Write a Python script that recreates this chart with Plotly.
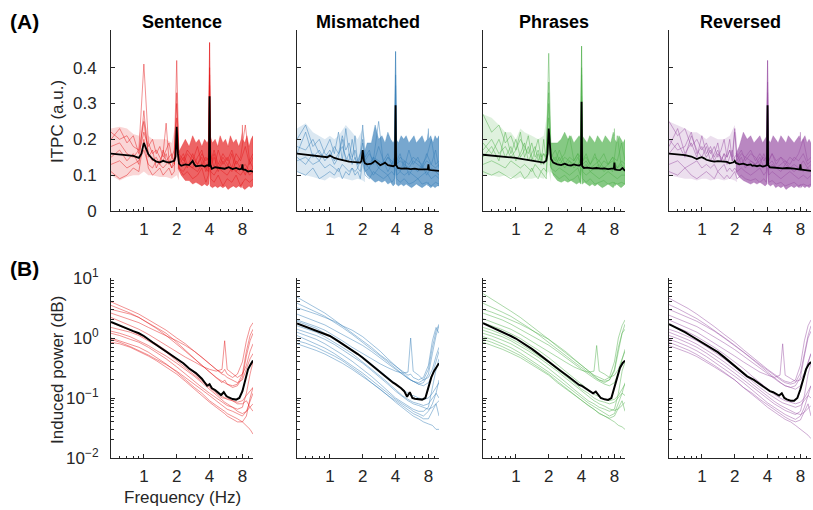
import math
import plotly.graph_objects as go

# ---------------- data ----------------
CONDITIONS = ["Sentence", "Mismatched", "Phrases", "Reversed"]
COLORS = ["#e41a1c", "#377eb8", "#4daf4a", "#984ea3"]

X_TICKS = [1, 2, 4, 8]
X_TICK_TEXT = ["1", "2", "4", "8"]
X_MINOR = [0.6, 0.7, 0.8, 0.9, 3, 5, 6, 7, 9, 10]
ITPC_TICKS = [0, 0.1, 0.2, 0.3, 0.4]
ITPC_TICK_TEXT = ["0", "0.1", "0.2", "0.3", "0.4"]
POW_TICKS = [0.01, 0.1, 1, 10]
POW_TICK_TEXT = ["10<sup>\u22122</sup>", "10<sup>\u22121</sup>", "10<sup>0</sup>", "10<sup>1</sup>"]
POW_MINOR = [0.02, 0.03, 0.04, 0.05, 0.06, 0.07, 0.08, 0.09,
             0.2, 0.3, 0.4, 0.5, 0.6, 0.7, 0.8, 0.9,
             2, 3, 4, 5, 6, 7, 8, 9]

# ---- (A) ITPC: group mean ----
F_MEAN = [0.5, 0.6, 0.7, 0.8, 0.9, 0.95, 1.0, 1.05, 1.1, 1.2, 1.3, 1.4, 1.5, 1.6, 1.7, 1.8, 1.9, 1.95,
          2.0, 2.05, 2.1, 2.2, 2.4, 2.6, 2.8, 2.9, 3.0, 3.2, 3.4, 3.6, 3.8, 3.95, 4.0, 4.05, 4.2, 4.5,
          5.0, 5.5, 6.0, 6.5, 7.0, 7.5, 7.9, 8.0, 8.1, 8.5, 9.0, 9.5, 10.0]
ITPC_MEAN_SENTENCE = [0.160, 0.158, 0.156, 0.154, 0.148, 0.160, 0.190, 0.175, 0.158, 0.145, 0.138, 0.136, 0.140,
                      0.137, 0.135, 0.138, 0.140, 0.152, 0.235, 0.160, 0.132, 0.126, 0.130, 0.128, 0.140, 0.130,
                      0.125, 0.126, 0.127, 0.124, 0.128, 0.126, 0.320, 0.130, 0.118, 0.122, 0.120, 0.118, 0.122,
                      0.117, 0.120, 0.116, 0.118, 0.130, 0.116, 0.115, 0.110, 0.112, 0.110]
ITPC_MEAN_MISMATCHED = [0.160, 0.157, 0.154, 0.151, 0.149, 0.150, 0.155, 0.152, 0.148, 0.145, 0.142, 0.140, 0.138,
                        0.137, 0.137, 0.136, 0.135, 0.140, 0.170, 0.140, 0.133, 0.130, 0.132, 0.140, 0.130, 0.128,
                        0.130, 0.135, 0.128, 0.126, 0.125, 0.128, 0.295, 0.128, 0.120, 0.118, 0.119, 0.117, 0.118,
                        0.116, 0.117, 0.116, 0.117, 0.130, 0.115, 0.114, 0.113, 0.114, 0.112]
ITPC_MEAN_PHRASES = [0.157, 0.155, 0.154, 0.152, 0.150, 0.149, 0.148, 0.147, 0.146, 0.144, 0.142, 0.141, 0.140,
                     0.138, 0.136, 0.135, 0.140, 0.160, 0.230, 0.175, 0.145, 0.135, 0.130, 0.128, 0.132, 0.130,
                     0.128, 0.127, 0.130, 0.128, 0.127, 0.130, 0.305, 0.125, 0.120, 0.121, 0.119, 0.120, 0.118,
                     0.119, 0.117, 0.118, 0.118, 0.135, 0.116, 0.115, 0.114, 0.120, 0.112]
ITPC_MEAN_REVERSED = [0.160, 0.158, 0.156, 0.152, 0.145, 0.148, 0.150, 0.147, 0.143, 0.140, 0.138, 0.139, 0.138,
                      0.136, 0.137, 0.133, 0.135, 0.136, 0.140, 0.134, 0.133, 0.130, 0.132, 0.128, 0.130, 0.126,
                      0.127, 0.125, 0.127, 0.124, 0.126, 0.128, 0.295, 0.128, 0.122, 0.121, 0.120, 0.119, 0.120,
                      0.118, 0.118, 0.117, 0.116, 0.130, 0.116, 0.115, 0.114, 0.113, 0.112]

# ---- (A) ITPC: spread of individual subjects, low frequencies ----
F_LOW = [0.5, 0.6, 0.7, 0.8, 0.9, 1.0, 1.1, 1.2, 1.4, 1.6, 1.8, 2.0, 2.1]
ITPC_LOW_HI_SENTENCE = [0.23, 0.235, 0.23, 0.215, 0.21, 0.26, 0.21, 0.2, 0.2, 0.2, 0.19, 0.26, 0.19]
ITPC_LOW_LO_SENTENCE = [0.1, 0.085, 0.095, 0.1, 0.1, 0.11, 0.1, 0.1, 0.095, 0.095, 0.09, 0.1, 0.085]
ITPC_LOW_HI_MISMATCHED = [0.23, 0.245, 0.22, 0.21, 0.2, 0.21, 0.2, 0.21, 0.24, 0.22, 0.2, 0.23, 0.2]
ITPC_LOW_LO_MISMATCHED = [0.11, 0.1, 0.095, 0.09, 0.085, 0.095, 0.09, 0.095, 0.09, 0.085, 0.09, 0.085, 0.08]
ITPC_LOW_HI_PHRASES = [0.27, 0.26, 0.24, 0.22, 0.22, 0.2, 0.23, 0.22, 0.21, 0.2, 0.21, 0.3, 0.2]
ITPC_LOW_LO_PHRASES = [0.1, 0.1, 0.095, 0.1, 0.095, 0.09, 0.095, 0.09, 0.09, 0.095, 0.09, 0.11, 0.08]
ITPC_LOW_HI_REVERSED = [0.25, 0.24, 0.23, 0.22, 0.22, 0.21, 0.2, 0.21, 0.2, 0.2, 0.21, 0.24, 0.2]
ITPC_LOW_LO_REVERSED = [0.1, 0.095, 0.09, 0.09, 0.085, 0.09, 0.09, 0.085, 0.09, 0.085, 0.09, 0.085, 0.08]

# ---- (A) ITPC: dense envelope of individual subjects, high frequencies ----
F_DENSE = [2.05, 2.2, 2.4, 2.6, 2.8, 3.0, 3.2, 3.4, 3.6, 3.8, 3.95, 4.0, 4.05, 4.25, 4.5, 4.75, 5.0, 5.3, 5.6,
           5.9, 6.2, 6.6, 7.0, 7.4, 7.8, 7.95, 8.0, 8.05, 8.4, 8.8, 9.2, 9.6, 10.0]
ITPC_HI_SENTENCE = [0.16, 0.18, 0.2, 0.18, 0.21, 0.19, 0.2, 0.18, 0.2, 0.19, 0.2, 0.47, 0.21, 0.19, 0.2, 0.18, 0.21,
                    0.19, 0.2, 0.18, 0.21, 0.19, 0.2, 0.18, 0.2, 0.22, 0.24, 0.2, 0.19, 0.21, 0.18, 0.2, 0.21]
ITPC_LO_SENTENCE = [0.12, 0.1, 0.085, 0.085, 0.075, 0.08, 0.075, 0.07, 0.075, 0.07, 0.075, 0.12, 0.07, 0.065, 0.07,
                    0.065, 0.07, 0.065, 0.07, 0.06, 0.065, 0.07, 0.065, 0.07, 0.065, 0.07, 0.08, 0.065, 0.06, 0.065,
                    0.07, 0.065, 0.07]
ITPC_HI_MISMATCHED = [0.16, 0.19, 0.19, 0.24, 0.2, 0.21, 0.19, 0.22, 0.2, 0.19, 0.2, 0.445, 0.2, 0.19, 0.21, 0.2,
                      0.21, 0.19, 0.2, 0.21, 0.19, 0.2, 0.21, 0.19, 0.2, 0.22, 0.23, 0.2, 0.21, 0.19, 0.21, 0.2, 0.21]
ITPC_LO_MISMATCHED = [0.12, 0.1, 0.09, 0.08, 0.085, 0.08, 0.085, 0.075, 0.08, 0.07, 0.075, 0.12, 0.075, 0.07,
                      0.075, 0.07, 0.075, 0.07, 0.065, 0.07, 0.075, 0.07, 0.065, 0.07, 0.075, 0.07, 0.08, 0.07, 0.065,
                      0.07, 0.065, 0.07, 0.07]
ITPC_HI_PHRASES = [0.19, 0.19, 0.19, 0.2, 0.22, 0.2, 0.21, 0.19, 0.2, 0.21, 0.2, 0.46, 0.21, 0.2, 0.19, 0.21, 0.2,
                   0.19, 0.21, 0.2, 0.19, 0.21, 0.2, 0.19, 0.22, 0.21, 0.23, 0.2, 0.19, 0.21, 0.2, 0.19, 0.2]
ITPC_LO_PHRASES = [0.13, 0.1, 0.085, 0.08, 0.085, 0.08, 0.085, 0.08, 0.075, 0.08, 0.075, 0.12, 0.075, 0.08, 0.075,
                   0.07, 0.075, 0.07, 0.075, 0.07, 0.065, 0.07, 0.075, 0.07, 0.065, 0.07, 0.08, 0.07, 0.075, 0.07,
                   0.065, 0.07, 0.075]
ITPC_HI_REVERSED = [0.16, 0.18, 0.22, 0.2, 0.21, 0.19, 0.2, 0.21, 0.19, 0.2, 0.21, 0.42, 0.2, 0.19, 0.21, 0.2, 0.19,
                    0.21, 0.2, 0.19, 0.21, 0.2, 0.19, 0.2, 0.21, 0.2, 0.22, 0.19, 0.2, 0.21, 0.19, 0.2, 0.19]
ITPC_LO_REVERSED = [0.11, 0.095, 0.085, 0.08, 0.075, 0.08, 0.075, 0.08, 0.075, 0.07, 0.075, 0.12, 0.075, 0.07, 0.075,
                    0.065, 0.07, 0.065, 0.07, 0.06, 0.065, 0.07, 0.065, 0.07, 0.065, 0.07, 0.075, 0.065, 0.07, 0.065,
                    0.07, 0.065, 0.07]

# ---- (A) ITPC: individual subjects ----
F_IND = [0.5, 0.6, 0.7, 0.8, 0.9, 1.0, 1.1, 1.2, 1.3, 1.4, 1.5, 1.6, 1.7, 1.8, 1.9, 2.0, 2.1, 2.3, 2.5, 2.8,
         3.1, 3.4, 3.7, 3.9, 4.0, 4.1, 4.4, 4.8, 5.3, 5.8, 6.4, 7.0, 7.7, 8.5, 9.3, 10.0]
ITPC_SUBJ_SENTENCE = [
    [0.22, 0.2, 0.21, 0.18, 0.17, 0.41, 0.19, 0.16, 0.17, 0.15, 0.14, 0.16, 0.13, 0.15, 0.14, 0.26, 0.15, 0.13,
     0.16, 0.14, 0.18, 0.13, 0.15, 0.14, 0.35, 0.16, 0.12, 0.17, 0.13, 0.15, 0.12, 0.16, 0.14, 0.18, 0.13, 0.15],
    [0.15, 0.17, 0.14, 0.16, 0.13, 0.28, 0.15, 0.17, 0.12, 0.14, 0.16, 0.245, 0.14, 0.12, 0.15, 0.42, 0.13, 0.15,
     0.12, 0.16, 0.13, 0.15, 0.11, 0.13, 0.47, 0.12, 0.15, 0.11, 0.14, 0.12, 0.16, 0.11, 0.13, 0.1, 0.14, 0.12],
    [0.11, 0.09, 0.1, 0.12, 0.11, 0.2, 0.12, 0.1, 0.11, 0.12, 0.1, 0.11, 0.12, 0.1, 0.11, 0.33, 0.12, 0.1,
     0.11, 0.09, 0.1, 0.12, 0.08, 0.1, 0.4, 0.09, 0.08, 0.1, 0.07, 0.09, 0.08, 0.1, 0.07, 0.09, 0.08, 0.09],
    [0.18, 0.19, 0.16, 0.15, 0.17, 0.25, 0.16, 0.14, 0.15, 0.13, 0.17, 0.14, 0.15, 0.16, 0.13, 0.22, 0.14, 0.16,
     0.13, 0.12, 0.15, 0.17, 0.12, 0.14, 0.3, 0.13, 0.16, 0.12, 0.15, 0.13, 0.11, 0.14, 0.12, 0.13, 0.11, 0.12],
    [0.13, 0.14, 0.12, 0.13, 0.14, 0.17, 0.13, 0.12, 0.14, 0.13, 0.12, 0.13, 0.14, 0.12, 0.13, 0.2, 0.12, 0.11,
     0.13, 0.12, 0.11, 0.13, 0.12, 0.11, 0.26, 0.11, 0.1, 0.12, 0.11, 0.1, 0.12, 0.11, 0.1, 0.12, 0.1, 0.11],
    [0.2, 0.23, 0.19, 0.21, 0.16, 0.22, 0.18, 0.2, 0.16, 0.18, 0.15, 0.17, 0.19, 0.15, 0.17, 0.3, 0.16, 0.14,
     0.17, 0.15, 0.13, 0.16, 0.14, 0.15, 0.38, 0.14, 0.17, 0.13, 0.16, 0.14, 0.17, 0.13, 0.15, 0.24, 0.14, 0.16],
]
ITPC_SUBJ_MISMATCHED = [
    [0.2, 0.24, 0.18, 0.2, 0.16, 0.15, 0.18, 0.16, 0.21, 0.17, 0.19, 0.15, 0.17, 0.14, 0.16, 0.24, 0.15, 0.17,
     0.13, 0.18, 0.14, 0.16, 0.13, 0.15, 0.445, 0.14, 0.16, 0.12, 0.17, 0.13, 0.15, 0.12, 0.16, 0.13, 0.17, 0.12],
    [0.15, 0.13, 0.16, 0.14, 0.17, 0.2, 0.16, 0.22, 0.14, 0.23, 0.16, 0.13, 0.15, 0.12, 0.14, 0.19, 0.13, 0.12,
     0.15, 0.12, 0.14, 0.11, 0.13, 0.12, 0.35, 0.12, 0.11, 0.14, 0.1, 0.12, 0.11, 0.13, 0.1, 0.12, 0.11, 0.1],
    [0.11, 0.1, 0.12, 0.09, 0.1, 0.11, 0.1, 0.12, 0.09, 0.11, 0.1, 0.12, 0.1, 0.11, 0.09, 0.14, 0.1, 0.09,
     0.11, 0.1, 0.09, 0.1, 0.08, 0.09, 0.25, 0.09, 0.08, 0.09, 0.075, 0.08, 0.09, 0.075, 0.08, 0.07, 0.08, 0.075],
    [0.18, 0.17, 0.2, 0.16, 0.15, 0.17, 0.14, 0.16, 0.18, 0.15, 0.14, 0.2, 0.15, 0.13, 0.16, 0.17, 0.14, 0.13,
     0.15, 0.14, 0.13, 0.15, 0.14, 0.13, 0.3, 0.13, 0.14, 0.13, 0.12, 0.14, 0.13, 0.12, 0.14, 0.13, 0.12, 0.13],
    [0.14, 0.15, 0.13, 0.14, 0.12, 0.13, 0.12, 0.11, 0.13, 0.12, 0.11, 0.12, 0.11, 0.12, 0.11, 0.15, 0.11, 0.12,
     0.1, 0.12, 0.11, 0.1, 0.11, 0.1, 0.22, 0.1, 0.11, 0.1, 0.11, 0.1, 0.09, 0.1, 0.11, 0.09, 0.1, 0.09],
    [0.16, 0.22, 0.15, 0.17, 0.14, 0.16, 0.13, 0.15, 0.2, 0.14, 0.16, 0.14, 0.21, 0.13, 0.15, 0.2, 0.14, 0.16,
     0.14, 0.25, 0.13, 0.15, 0.13, 0.14, 0.38, 0.13, 0.15, 0.14, 0.13, 0.15, 0.14, 0.13, 0.15, 0.2, 0.13, 0.14],
]
ITPC_SUBJ_PHRASES = [
    [0.27, 0.22, 0.24, 0.19, 0.21, 0.17, 0.2, 0.18, 0.16, 0.19, 0.15, 0.17, 0.14, 0.16, 0.15, 0.44, 0.16, 0.14,
     0.17, 0.13, 0.15, 0.14, 0.16, 0.13, 0.46, 0.14, 0.15, 0.13, 0.16, 0.12, 0.14, 0.13, 0.15, 0.12, 0.14, 0.13],
    [0.15, 0.18, 0.14, 0.22, 0.16, 0.2, 0.15, 0.17, 0.21, 0.15, 0.14, 0.16, 0.13, 0.2, 0.14, 0.33, 0.15, 0.13,
     0.15, 0.12, 0.14, 0.12, 0.13, 0.14, 0.38, 0.12, 0.13, 0.11, 0.12, 0.13, 0.11, 0.12, 0.11, 0.21, 0.12, 0.11],
    [0.11, 0.1, 0.11, 0.1, 0.09, 0.1, 0.11, 0.09, 0.1, 0.12, 0.1, 0.09, 0.11, 0.1, 0.09, 0.3, 0.11, 0.1,
     0.09, 0.1, 0.085, 0.09, 0.1, 0.08, 0.27, 0.09, 0.08, 0.09, 0.075, 0.08, 0.085, 0.075, 0.08, 0.075, 0.08, 0.075],
    [0.19, 0.16, 0.2, 0.15, 0.18, 0.14, 0.16, 0.19, 0.14, 0.16, 0.18, 0.14, 0.16, 0.13, 0.15, 0.26, 0.14, 0.15,
     0.13, 0.15, 0.14, 0.13, 0.15, 0.13, 0.32, 0.13, 0.14, 0.12, 0.13, 0.14, 0.12, 0.13, 0.14, 0.12, 0.13, 0.12],
    [0.13, 0.14, 0.13, 0.12, 0.14, 0.13, 0.12, 0.13, 0.12, 0.11, 0.13, 0.12, 0.11, 0.12, 0.11, 0.2, 0.12, 0.11,
     0.12, 0.11, 0.1, 0.11, 0.12, 0.1, 0.22, 0.11, 0.1, 0.11, 0.1, 0.09, 0.1, 0.11, 0.1, 0.09, 0.1, 0.1],
    [0.17, 0.2, 0.16, 0.18, 0.15, 0.17, 0.22, 0.15, 0.18, 0.14, 0.17, 0.2, 0.15, 0.16, 0.14, 0.36, 0.15, 0.17,
     0.14, 0.16, 0.21, 0.14, 0.16, 0.15, 0.4, 0.14, 0.16, 0.13, 0.15, 0.14, 0.16, 0.13, 0.15, 0.14, 0.19, 0.14],
]
ITPC_SUBJ_REVERSED = [
    [0.25, 0.21, 0.23, 0.18, 0.2, 0.17, 0.19, 0.16, 0.18, 0.15, 0.17, 0.2, 0.15, 0.17, 0.14, 0.22, 0.15, 0.17,
     0.14, 0.16, 0.15, 0.13, 0.16, 0.14, 0.42, 0.14, 0.16, 0.13, 0.15, 0.14, 0.13, 0.15, 0.14, 0.16, 0.13, 0.14],
    [0.16, 0.19, 0.15, 0.21, 0.17, 0.15, 0.18, 0.14, 0.16, 0.19, 0.14, 0.16, 0.13, 0.15, 0.17, 0.14, 0.13, 0.15,
     0.12, 0.14, 0.13, 0.15, 0.12, 0.13, 0.33, 0.12, 0.13, 0.12, 0.11, 0.13, 0.12, 0.11, 0.12, 0.11, 0.12, 0.11],
    [0.11, 0.1, 0.12, 0.1, 0.09, 0.1, 0.11, 0.1, 0.09, 0.11, 0.1, 0.09, 0.1, 0.09, 0.1, 0.11, 0.09, 0.1,
     0.09, 0.085, 0.09, 0.08, 0.09, 0.08, 0.24, 0.08, 0.085, 0.075, 0.08, 0.07, 0.075, 0.08, 0.07, 0.075, 0.07, 0.075],
    [0.2, 0.17, 0.18, 0.22, 0.16, 0.18, 0.15, 0.17, 0.14, 0.16, 0.15, 0.14, 0.16, 0.2, 0.14, 0.15, 0.16, 0.13,
     0.15, 0.14, 0.13, 0.14, 0.15, 0.13, 0.28, 0.13, 0.14, 0.12, 0.13, 0.14, 0.12, 0.13, 0.12, 0.14, 0.12, 0.13],
    [0.13, 0.14, 0.12, 0.13, 0.14, 0.12, 0.13, 0.12, 0.13, 0.11, 0.12, 0.13, 0.11, 0.12, 0.11, 0.12, 0.11, 0.12,
     0.11, 0.1, 0.11, 0.12, 0.1, 0.11, 0.2, 0.1, 0.11, 0.1, 0.09, 0.1, 0.11, 0.1, 0.09, 0.1, 0.09, 0.1],
    [0.18, 0.23, 0.16, 0.19, 0.15, 0.21, 0.16, 0.18, 0.15, 0.17, 0.14, 0.16, 0.15, 0.17, 0.15, 0.23, 0.14, 0.16,
     0.15, 0.17, 0.14, 0.16, 0.14, 0.15, 0.36, 0.14, 0.16, 0.14, 0.15, 0.13, 0.15, 0.14, 0.16, 0.2, 0.14, 0.15],
]

# ---- (B) Induced power: group mean ----
F_POW_MEAN = [0.5, 0.6, 0.7, 0.8, 0.9, 1.0, 1.2, 1.4, 1.6, 1.8, 2.0, 2.3, 2.6, 3.0, 3.4, 3.8, 4.0, 4.2, 4.5,
              4.8, 5.1, 5.4, 5.7, 6.0, 6.5, 7.0, 7.5, 8.0, 8.5, 9.0, 9.5, 10.0]
POW_MEAN_SENTENCE = [1.85, 1.6, 1.42, 1.3, 1.2, 1.08, 0.85, 0.7, 0.6, 0.52, 0.46, 0.38, 0.31, 0.26, 0.21, 0.16,
                     0.17, 0.145, 0.135, 0.122, 0.112, 0.125, 0.108, 0.102, 0.096, 0.094, 0.1, 0.13, 0.2, 0.3,
                     0.36, 0.42]
POW_MEAN_MISMATCHED = [1.75, 1.55, 1.4, 1.28, 1.18, 1.08, 0.88, 0.74, 0.63, 0.54, 0.47, 0.38, 0.31, 0.25, 0.21,
                       0.18, 0.17, 0.16, 0.145, 0.13, 0.105, 0.125, 0.1, 0.097, 0.095, 0.094, 0.1, 0.15, 0.22,
                       0.28, 0.33, 0.38]
POW_MEAN_PHRASES = [1.76, 1.52, 1.35, 1.2, 1.08, 0.98, 0.8, 0.66, 0.55, 0.47, 0.41, 0.34, 0.28, 0.23, 0.19, 0.165,
                    0.16, 0.15, 0.14, 0.13, 0.12, 0.128, 0.11, 0.1, 0.095, 0.093, 0.1, 0.15, 0.24, 0.32, 0.38, 0.42]
POW_MEAN_REVERSED = [1.7, 1.45, 1.25, 1.08, 0.95, 0.85, 0.7, 0.58, 0.48, 0.4, 0.34, 0.28, 0.23, 0.2, 0.17, 0.145,
                     0.14, 0.13, 0.125, 0.118, 0.11, 0.12, 0.1, 0.095, 0.09, 0.09, 0.1, 0.14, 0.22, 0.3, 0.36, 0.4]

# ---- (B) Induced power: individual subjects ----
F_POW_IND = [0.5, 0.6, 0.75, 0.9, 1.1, 1.3, 1.6, 2.0, 2.4, 2.9, 3.4, 4.0, 4.6, 5.2, 5.5, 5.8, 6.5, 7.2, 8.0,
             8.7, 9.4, 10.0]
POW_SUBJ_SENTENCE = [
    [4.0, 3.5, 2.9, 2.5, 2.0, 1.7, 1.35, 1.0, 0.8, 0.6, 0.48, 0.37, 0.3, 0.26, 0.3, 0.25, 0.22, 0.25, 0.4, 0.9, 1.5, 1.8],
    [3.0, 2.8, 2.5, 2.2, 1.8, 1.5, 1.2, 0.85, 0.62, 0.45, 0.35, 0.27, 0.22, 0.18, 0.2, 0.17, 0.15, 0.16, 0.22, 0.5, 0.9, 1.2],
    [2.2, 1.9, 1.6, 1.4, 1.15, 0.95, 0.75, 0.58, 0.48, 0.4, 0.34, 0.3, 0.28, 0.3, 0.9, 0.3, 0.25, 0.22, 0.25, 0.35, 0.6, 0.8],
    [1.5, 1.4, 1.25, 1.1, 0.9, 0.75, 0.58, 0.42, 0.32, 0.24, 0.19, 0.15, 0.12, 0.1, 0.1, 0.095, 0.09, 0.08, 0.08, 0.09, 0.07, 0.06],
    [1.2, 1.1, 0.95, 0.85, 0.7, 0.58, 0.45, 0.33, 0.25, 0.19, 0.15, 0.12, 0.1, 0.085, 0.08, 0.075, 0.07, 0.065, 0.07, 0.12, 0.25, 0.4],
    [1.0, 0.9, 0.8, 0.7, 0.58, 0.48, 0.37, 0.27, 0.2, 0.15, 0.12, 0.09, 0.075, 0.065, 0.06, 0.055, 0.05, 0.045, 0.04, 0.035, 0.03, 0.025],
    [0.85, 0.8, 0.7, 0.6, 0.5, 0.42, 0.33, 0.25, 0.19, 0.14, 0.11, 0.085, 0.07, 0.06, 0.055, 0.05, 0.045, 0.04, 0.04, 0.05, 0.1, 0.15],
    [2.6, 2.3, 2.0, 1.8, 1.5, 1.3, 1.1, 0.9, 0.75, 0.6, 0.48, 0.38, 0.3, 0.25, 0.24, 0.22, 0.2, 0.18, 0.2, 0.3, 0.45, 0.55],
    [1.8, 1.6, 1.35, 1.15, 0.95, 0.8, 0.62, 0.46, 0.35, 0.26, 0.2, 0.16, 0.13, 0.11, 0.1, 0.1, 0.09, 0.085, 0.09, 0.11, 0.13, 0.15],
    [1.3, 1.2, 1.05, 0.9, 0.75, 0.62, 0.5, 0.38, 0.3, 0.23, 0.18, 0.14, 0.11, 0.09, 0.085, 0.08, 0.07, 0.06, 0.055, 0.06, 0.07, 0.08],
    [0.95, 0.85, 0.72, 0.62, 0.52, 0.44, 0.36, 0.28, 0.22, 0.17, 0.14, 0.11, 0.09, 0.075, 0.07, 0.065, 0.06, 0.055, 0.05, 0.06, 0.09, 0.12],
    [3.5, 3.1, 2.6, 2.2, 1.75, 1.45, 1.1, 0.8, 0.6, 0.45, 0.35, 0.27, 0.22, 0.19, 0.18, 0.17, 0.16, 0.17, 0.25, 0.6, 1.1, 1.4],
]
POW_SUBJ_MISMATCHED = [
    [4.8, 4.0, 3.2, 2.6, 2.0, 1.6, 1.2, 0.9, 0.7, 0.52, 0.42, 0.33, 0.28, 0.24, 0.25, 0.22, 0.2, 0.22, 0.35, 0.9, 1.5, 1.2],
    [3.2, 2.9, 2.5, 2.2, 1.9, 1.6, 1.35, 1.05, 0.8, 0.6, 0.45, 0.34, 0.27, 0.22, 0.2, 0.19, 0.17, 0.18, 0.25, 0.55, 1.1, 1.6],
    [2.0, 1.8, 1.55, 1.35, 1.1, 0.9, 0.7, 0.55, 0.45, 0.37, 0.32, 0.28, 0.26, 0.27, 1.0, 0.28, 0.24, 0.2, 0.22, 0.3, 0.5, 0.7],
    [1.6, 1.45, 1.25, 1.05, 0.85, 0.7, 0.55, 0.4, 0.3, 0.23, 0.18, 0.14, 0.11, 0.095, 0.09, 0.085, 0.08, 0.075, 0.08, 0.1, 0.12, 0.1],
    [1.25, 1.1, 0.95, 0.8, 0.65, 0.53, 0.41, 0.3, 0.23, 0.17, 0.13, 0.1, 0.085, 0.075, 0.07, 0.065, 0.06, 0.06, 0.07, 0.15, 0.3, 0.45],
    [0.9, 0.82, 0.7, 0.6, 0.5, 0.42, 0.32, 0.24, 0.18, 0.14, 0.11, 0.085, 0.07, 0.06, 0.055, 0.05, 0.045, 0.04, 0.037, 0.035, 0.03, 0.03],
    [1.1, 0.95, 0.8, 0.68, 0.55, 0.45, 0.35, 0.26, 0.2, 0.15, 0.12, 0.095, 0.08, 0.07, 0.065, 0.06, 0.055, 0.05, 0.06, 0.08, 0.12, 0.2],
    [2.5, 2.2, 1.9, 1.65, 1.35, 1.15, 0.95, 0.75, 0.6, 0.47, 0.38, 0.3, 0.25, 0.21, 0.2, 0.19, 0.17, 0.16, 0.18, 0.25, 0.4, 0.6],
    [1.9, 1.7, 1.45, 1.2, 1.0, 0.82, 0.64, 0.48, 0.37, 0.28, 0.22, 0.17, 0.14, 0.12, 0.11, 0.11, 0.1, 0.095, 0.1, 0.12, 0.15, 0.18],
    [1.4, 1.25, 1.1, 0.95, 0.78, 0.64, 0.5, 0.38, 0.29, 0.22, 0.17, 0.13, 0.105, 0.09, 0.085, 0.08, 0.075, 0.07, 0.065, 0.07, 0.08, 0.09],
    [0.8, 0.72, 0.62, 0.54, 0.45, 0.38, 0.3, 0.23, 0.18, 0.14, 0.11, 0.09, 0.075, 0.065, 0.06, 0.055, 0.05, 0.045, 0.045, 0.06, 0.08, 0.05],
    [3.8, 3.3, 2.7, 2.3, 1.85, 1.5, 1.15, 0.85, 0.65, 0.5, 0.4, 0.31, 0.25, 0.21, 0.2, 0.19, 0.18, 0.2, 0.3, 0.7, 1.3, 1.7],
]
POW_SUBJ_PHRASES = [
    [5.5, 4.5, 3.5, 2.8, 2.2, 1.75, 1.3, 0.95, 0.72, 0.55, 0.43, 0.34, 0.28, 0.24, 0.23, 0.22, 0.2, 0.22, 0.4, 1.0, 1.6, 2.0],
    [3.0, 2.7, 2.3, 2.0, 1.7, 1.45, 1.2, 0.95, 0.75, 0.58, 0.45, 0.35, 0.28, 0.23, 0.21, 0.2, 0.18, 0.2, 0.3, 0.7, 1.2, 1.4],
    [2.1, 1.85, 1.6, 1.4, 1.15, 0.95, 0.76, 0.6, 0.48, 0.39, 0.33, 0.29, 0.27, 0.28, 0.75, 0.28, 0.25, 0.22, 0.24, 0.3, 0.45, 0.6],
    [1.5, 1.35, 1.15, 0.98, 0.8, 0.66, 0.52, 0.39, 0.3, 0.23, 0.18, 0.14, 0.12, 0.1, 0.095, 0.09, 0.085, 0.08, 0.085, 0.1, 0.12, 0.11],
    [1.2, 1.08, 0.92, 0.8, 0.65, 0.54, 0.42, 0.31, 0.24, 0.18, 0.14, 0.11, 0.09, 0.08, 0.075, 0.07, 0.065, 0.06, 0.065, 0.12, 0.28, 0.4],
    [0.95, 0.85, 0.72, 0.62, 0.51, 0.42, 0.33, 0.25, 0.19, 0.145, 0.115, 0.09, 0.075, 0.065, 0.06, 0.055, 0.05, 0.045, 0.04, 0.035, 0.033, 0.03],
    [1.05, 0.95, 0.8, 0.69, 0.56, 0.46, 0.36, 0.27, 0.21, 0.16, 0.125, 0.1, 0.083, 0.072, 0.068, 0.063, 0.057, 0.05, 0.055, 0.08, 0.12, 0.18],
    [2.6, 2.3, 2.0, 1.7, 1.4, 1.18, 0.96, 0.76, 0.6, 0.47, 0.37, 0.3, 0.25, 0.21, 0.2, 0.19, 0.17, 0.16, 0.18, 0.26, 0.45, 0.65],
    [1.8, 1.6, 1.38, 1.18, 0.98, 0.8, 0.63, 0.47, 0.36, 0.27, 0.21, 0.165, 0.135, 0.115, 0.11, 0.105, 0.095, 0.09, 0.095, 0.11, 0.14, 0.17],
    [1.35, 1.2, 1.05, 0.9, 0.74, 0.61, 0.48, 0.36, 0.28, 0.21, 0.165, 0.13, 0.105, 0.09, 0.085, 0.08, 0.073, 0.066, 0.062, 0.066, 0.075, 0.085],
    [0.85, 0.76, 0.65, 0.56, 0.47, 0.39, 0.31, 0.24, 0.18, 0.14, 0.11, 0.09, 0.075, 0.064, 0.06, 0.056, 0.05, 0.046, 0.05, 0.07, 0.09, 0.06],
    [3.8, 3.3, 2.7, 2.3, 1.85, 1.5, 1.15, 0.85, 0.65, 0.5, 0.4, 0.32, 0.26, 0.22, 0.21, 0.2, 0.19, 0.2, 0.28, 0.6, 1.2, 1.7],
]
POW_SUBJ_REVERSED = [
    [4.6, 3.9, 3.1, 2.5, 1.95, 1.55, 1.15, 0.85, 0.64, 0.48, 0.38, 0.3, 0.25, 0.21, 0.2, 0.19, 0.18, 0.2, 0.35, 0.9, 1.6, 2.0],
    [3.0, 2.6, 2.2, 1.9, 1.55, 1.3, 1.0, 0.75, 0.58, 0.44, 0.34, 0.27, 0.22, 0.18, 0.17, 0.16, 0.15, 0.16, 0.22, 0.5, 1.0, 1.3],
    [2.0, 1.75, 1.45, 1.25, 1.0, 0.82, 0.64, 0.5, 0.4, 0.32, 0.27, 0.24, 0.22, 0.24, 0.8, 0.24, 0.21, 0.19, 0.2, 0.26, 0.4, 0.55],
    [1.4, 1.25, 1.05, 0.9, 0.72, 0.59, 0.45, 0.33, 0.25, 0.19, 0.15, 0.12, 0.1, 0.088, 0.083, 0.08, 0.075, 0.07, 0.075, 0.09, 0.11, 0.1],
    [1.1, 0.98, 0.82, 0.7, 0.56, 0.46, 0.35, 0.26, 0.2, 0.15, 0.12, 0.095, 0.08, 0.07, 0.066, 0.062, 0.057, 0.053, 0.06, 0.11, 0.25, 0.38],
    [0.85, 0.75, 0.63, 0.53, 0.43, 0.35, 0.27, 0.2, 0.15, 0.115, 0.09, 0.07, 0.058, 0.05, 0.047, 0.044, 0.04, 0.035, 0.03, 0.027, 0.024, 0.021],
    [0.95, 0.85, 0.72, 0.61, 0.49, 0.4, 0.31, 0.23, 0.18, 0.135, 0.105, 0.083, 0.07, 0.06, 0.057, 0.053, 0.048, 0.044, 0.05, 0.07, 0.11, 0.16],
    [2.4, 2.1, 1.8, 1.55, 1.25, 1.05, 0.83, 0.64, 0.5, 0.39, 0.31, 0.25, 0.21, 0.18, 0.17, 0.16, 0.15, 0.14, 0.16, 0.23, 0.38, 0.55],
    [1.7, 1.5, 1.25, 1.05, 0.85, 0.7, 0.54, 0.4, 0.31, 0.23, 0.18, 0.14, 0.115, 0.1, 0.095, 0.09, 0.085, 0.08, 0.085, 0.1, 0.13, 0.16],
    [1.25, 1.1, 0.93, 0.79, 0.64, 0.52, 0.4, 0.3, 0.23, 0.17, 0.135, 0.105, 0.088, 0.076, 0.072, 0.068, 0.062, 0.056, 0.053, 0.058, 0.067, 0.075],
    [0.75, 0.67, 0.57, 0.49, 0.4, 0.33, 0.26, 0.2, 0.15, 0.12, 0.095, 0.077, 0.064, 0.055, 0.052, 0.048, 0.043, 0.04, 0.043, 0.06, 0.08, 0.05],
    [3.6, 3.1, 2.5, 2.1, 1.65, 1.35, 1.02, 0.76, 0.58, 0.45, 0.36, 0.29, 0.24, 0.2, 0.19, 0.18, 0.17, 0.18, 0.26, 0.55, 1.1, 1.6],
]

ITPC_MEANS = [ITPC_MEAN_SENTENCE, ITPC_MEAN_MISMATCHED, ITPC_MEAN_PHRASES, ITPC_MEAN_REVERSED]
ITPC_LOW_HI = [ITPC_LOW_HI_SENTENCE, ITPC_LOW_HI_MISMATCHED, ITPC_LOW_HI_PHRASES, ITPC_LOW_HI_REVERSED]
ITPC_LOW_LO = [ITPC_LOW_LO_SENTENCE, ITPC_LOW_LO_MISMATCHED, ITPC_LOW_LO_PHRASES, ITPC_LOW_LO_REVERSED]
ITPC_HI = [ITPC_HI_SENTENCE, ITPC_HI_MISMATCHED, ITPC_HI_PHRASES, ITPC_HI_REVERSED]
ITPC_LO = [ITPC_LO_SENTENCE, ITPC_LO_MISMATCHED, ITPC_LO_PHRASES, ITPC_LO_REVERSED]
ITPC_SUBJ = [ITPC_SUBJ_SENTENCE, ITPC_SUBJ_MISMATCHED, ITPC_SUBJ_PHRASES, ITPC_SUBJ_REVERSED]
POW_MEANS = [POW_MEAN_SENTENCE, POW_MEAN_MISMATCHED, POW_MEAN_PHRASES, POW_MEAN_REVERSED]
POW_SUBJ = [POW_SUBJ_SENTENCE, POW_SUBJ_MISMATCHED, POW_SUBJ_PHRASES, POW_SUBJ_REVERSED]

# ---------------- figure ----------------
W, H = 813, 510
FONT = "Liberation Sans, Arial, Helvetica, sans-serif"
AXC = "#262626"
TICK_SIZE = 17
X_PIX = [(111, 253), (297, 439), (483, 625), (669, 811)]
Y_TOP = (30, 211)
Y_BOT = (278, 458)


def rgba(hex_color, a):
    h = hex_color.lstrip("#")
    return "rgba(%d,%d,%d,%.2f)" % (int(h[0:2], 16), int(h[2:4], 16), int(h[4:6], 16), a)


fig = go.Figure()
layout = {}

for i, cond in enumerate(CONDITIONS):
    col = COLORS[i]
    xt, yt = "x%d" % (i + 1), "y%d" % (i + 1)
    xb, yb = "x%d" % (i + 5), "y%d" % (i + 5)

    # --- ITPC panel ---
    fig.add_trace(go.Scatter(x=F_LOW + F_LOW[::-1], y=ITPC_LOW_HI[i] + ITPC_LOW_LO[i][::-1],
                             fill="toself", fillcolor=rgba(col, 0.18), line=dict(width=0),
                             mode="lines", hoverinfo="skip", xaxis=xt, yaxis=yt))
    fig.add_trace(go.Scatter(x=F_DENSE + F_DENSE[::-1], y=ITPC_HI[i] + ITPC_LO[i][::-1],
                             fill="toself", fillcolor=rgba(col, 0.68), line=dict(width=0.6, color=rgba(col, 0.5)),
                             mode="lines", hoverinfo="skip", xaxis=xt, yaxis=yt))
    for s in ITPC_SUBJ[i]:
        fig.add_trace(go.Scatter(x=F_IND, y=s, mode="lines", line=dict(color=rgba(col, 0.6), width=0.8),
                                 hoverinfo="skip", xaxis=xt, yaxis=yt))
    fig.add_trace(go.Scatter(x=F_MEAN, y=ITPC_MEANS[i], mode="lines", line=dict(color="black", width=1.8),
                             xaxis=xt, yaxis=yt))

    # --- induced power panel ---
    for s in POW_SUBJ[i]:
        fig.add_trace(go.Scatter(x=F_POW_IND, y=s, mode="lines", line=dict(color=rgba(col, 0.6), width=0.8),
                                 hoverinfo="skip", xaxis=xb, yaxis=yb))
    fig.add_trace(go.Scatter(x=F_POW_MEAN, y=POW_MEANS[i], mode="lines", line=dict(color="black", width=2),
                             xaxis=xb, yaxis=yb))

    x0, x1 = X_PIX[i]
    xdom = [x0 / W, x1 / W]
    xbase = dict(type="log", range=[math.log10(0.5), 1.0], tickmode="array", tickvals=X_TICKS,
                 ticktext=X_TICK_TEXT, ticks="inside", ticklen=4, tickwidth=1, tickcolor=AXC,
                 showline=True, linecolor=AXC, linewidth=1, showgrid=False, zeroline=False, automargin=False,
                 tickfont=dict(size=TICK_SIZE, color=AXC, family=FONT), ticklabelstandoff=3,
                 minor=dict(tickmode="array", tickvals=X_MINOR, ticks="inside", ticklen=2.5,
                            tickcolor=AXC, showgrid=False))
    layout["xaxis%d" % (i + 1)] = dict(xbase, domain=xdom, anchor=yt)
    layout["xaxis%d" % (i + 5)] = dict(xbase, domain=xdom, anchor=yb)

    layout["yaxis%d" % (i + 1)] = dict(
        range=[0, 0.505], domain=[1 - Y_TOP[1] / H, 1 - Y_TOP[0] / H], anchor=xt, automargin=False,
        tickmode="array", tickvals=ITPC_TICKS, ticktext=ITPC_TICK_TEXT, ticks="inside", ticklen=4,
        tickcolor=AXC, showline=True, linecolor=AXC, linewidth=1, showgrid=False, zeroline=False,
        showticklabels=(i == 0), tickfont=dict(size=TICK_SIZE, color=AXC, family=FONT), ticklabelstandoff=10)
    layout["yaxis%d" % (i + 5)] = dict(
        type="log", range=[-2, 1], domain=[1 - Y_BOT[1] / H, 1 - Y_BOT[0] / H], anchor=xb, automargin=False,
        tickmode="array", tickvals=POW_TICKS, ticktext=POW_TICK_TEXT, ticks="inside", ticklen=4,
        tickcolor=AXC, showline=True, linecolor=AXC, linewidth=1, showgrid=False, zeroline=False,
        showticklabels=(i == 0), tickfont=dict(size=TICK_SIZE, color=AXC, family=FONT), ticklabelstandoff=8,
        minor=dict(tickmode="array", tickvals=POW_MINOR, ticks="inside", ticklen=2.5, tickcolor=AXC,
                   showgrid=False))

annotations = []
for i, cond in enumerate(CONDITIONS):
    x0, x1 = X_PIX[i]
    annotations.append(dict(text="<b>%s</b>" % cond, x=(x0 + x1) / 2 / W, y=1 - 22 / H, xref="paper",
                            yref="paper", xanchor="center", yanchor="middle", showarrow=False,
                            font=dict(size=18, color="black", family=FONT)))
annotations += [
    dict(text="<b>(A)</b>", x=8 / W, y=1 - 22 / H, xref="paper", yref="paper", xanchor="left",
         yanchor="middle", showarrow=False, font=dict(size=21, color="black", family=FONT)),
    dict(text="<b>(B)</b>", x=8 / W, y=1 - 268 / H, xref="paper", yref="paper", xanchor="left",
         yanchor="middle", showarrow=False, font=dict(size=21, color="black", family=FONT)),
    dict(text="ITPC (a.u.)", x=57 / W, y=1 - 121 / H, xref="paper", yref="paper", xanchor="center",
         yanchor="middle", textangle=-90, showarrow=False, font=dict(size=17, color=AXC, family=FONT)),
    dict(text="Induced power (dB)", x=57 / W, y=1 - 370 / H, xref="paper", yref="paper", xanchor="center",
         yanchor="middle", textangle=-90, showarrow=False, font=dict(size=17, color=AXC, family=FONT)),
    dict(text="Frequency (Hz)", x=182 / W, y=1 - 497 / H, xref="paper", yref="paper", xanchor="center",
         yanchor="middle", showarrow=False, font=dict(size=17, color=AXC, family=FONT)),
]

fig.update_layout(width=W, height=H, autosize=False,
                  margin=dict(l=0, r=0, t=0, b=0, pad=0, autoexpand=False),
                  paper_bgcolor="white", plot_bgcolor="white", showlegend=False,
                  font=dict(family=FONT, color=AXC), annotations=annotations, **layout)

PAGE_FIX = (
    "var d=document.getElementById('{plot_id}');"
    "d.style.position='fixed';d.style.top='0px';d.style.left='0px';"
    "document.documentElement.style.overflow='hidden';"
    "document.body.style.margin='0px';document.body.style.overflow='hidden';"
)
fig.write_html("out.html", config={"responsive": False, "displayModeBar": False}, post_script=PAGE_FIX)
